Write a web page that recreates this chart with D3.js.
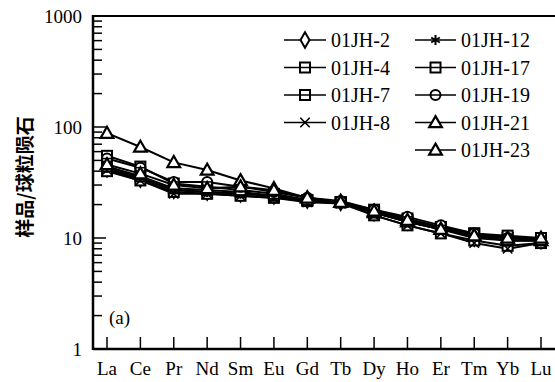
<!DOCTYPE html>
<html>
<head>
  <meta charset="utf-8">
  <style>
    body{ margin:0; padding:0; background:#fff; }
    svg{ display:block; }
  </style>
</head>
<body>
<svg id="chart" width="555" height="382"></svg>
<script src="https://d3js.org/d3.v7.min.js"></script>
<script>
// REE normalised to chondrite
var elements = ["La","Ce","Pr","Nd","Sm","Eu","Gd","Tb","Dy","Ho","Er","Tm","Yb","Lu"];
var yTicks = [1, 10, 100, 1000];

var jh2  = [42, 34, 27, 26, 25, 24, 22, 21, 17, 14, 12, 10, 9.5, 9.5];
var jh4  = [40, 33, 26, 25, 24, 23, 21.5, 21, 16, 13, 11, 9.5, 8.5, 9];
var jh7  = [44, 36, 28, 27, 26, 24, 22, 21, 17, 14.5, 12.5, 11, 10, 10];
var jh8  = [41, 33, 25, 25, 24, 23, 21, 20.5, 16, 13, 11, 9, 8, 9];
var jh12 = [43, 35, 27, 26, 25, 24, 22, 21, 17, 14, 12, 10.5, 9.5, 9.5];
var jh17 = [55, 44, 31, 29, 27, 25, 22, 21, 18, 15, 12.5, 11, 10.5, 10];
var jh19 = [52, 43, 32, 32, 29, 26, 23, 21.5, 18, 15.5, 13, 11, 10, 9.5];
var jh21 = [88, 66, 48, 41, 33, 28, 23, 21, 17, 14, 12, 10.5, 9.5, 9.5];
var jh23 = [46, 38, 30, 28, 29, 27, 23, 21, 17.5, 14.5, 12, 10.5, 10, 10];

var series = [
  {name:"01JH-2",  sym:"diamond",  values:jh2},
  {name:"01JH-4",  sym:"square",   values:jh4},
  {name:"01JH-7",  sym:"square",   values:jh7},
  {name:"01JH-8",  sym:"cross",    values:jh8},
  {name:"01JH-12", sym:"star",     values:jh12},
  {name:"01JH-17", sym:"square",   values:jh17},
  {name:"01JH-19", sym:"circle",   values:jh19},
  {name:"01JH-21", sym:"triangle", values:jh21},
  {name:"01JH-23", sym:"triangle", values:jh23}
];

var serif = "'Liberation Serif', 'Times New Roman', Times, serif";
var pL = 93, pT = 16, pR = 555, pB = 349;

var svg = d3.select("#chart");

var x = d3.scalePoint().domain(elements).range([107, 541]);
var y = d3.scaleLog().domain([1, 1000]).range([pB, pT]);

// draw marker symbol at (cx, cy)
function marker(g, sym, cx, cy){
  if (sym == "diamond") {
    g.append("path").attr("d", d3.symbol(d3.symbolDiamond, 70)())
      .attr("transform", "translate(" + cx + "," + cy + ")")
      .attr("fill", "#fff").attr("stroke", "#000").attr("stroke-width", 2);
  } else if (sym == "square") {
    g.append("rect").attr("x", cx - 5).attr("y", cy - 5).attr("width", 10).attr("height", 10)
      .attr("fill", "#fff").attr("stroke", "#000").attr("stroke-width", 2);
    g.append("line").attr("x1", cx - 5).attr("x2", cx + 5).attr("y1", cy).attr("y2", cy)
      .attr("stroke", "#000").attr("stroke-width", 1.5);
  } else if (sym == "circle") {
    g.append("circle").attr("cx", cx).attr("cy", cy).attr("r", 5)
      .attr("fill", "#fff").attr("stroke", "#000").attr("stroke-width", 2);
    g.append("line").attr("x1", cx - 5).attr("x2", cx + 5).attr("y1", cy).attr("y2", cy)
      .attr("stroke", "#000").attr("stroke-width", 1.5);
  } else if (sym == "triangle") {
    g.append("path").attr("d", d3.symbol(d3.symbolTriangle, 70)())
      .attr("transform", "translate(" + cx + "," + (cy + 1) + ")")
      .attr("fill", "#fff").attr("stroke", "#000").attr("stroke-width", 2.2);
  } else if (sym == "cross") {
    g.append("path").attr("d", d3.symbol(d3.symbolX, 60)())
      .attr("transform", "translate(" + cx + "," + cy + ")")
      .attr("fill", "none").attr("stroke", "#000").attr("stroke-width", 1.6);
  } else if (sym == "star") {
    g.append("path").attr("d", d3.symbol(d3.symbolAsterisk, 70)())
      .attr("transform", "translate(" + cx + "," + cy + ")")
      .attr("fill", "none").attr("stroke", "#000").attr("stroke-width", 2);
  }
}

// series lines + markers
var line = d3.line()
  .x(function(d, i){ return x(elements[i]); })
  .y(function(d){ return y(d); });

var plot = svg.append("g");
series.forEach(function(s){
  plot.append("path").datum(s.values)
    .attr("d", line).attr("fill", "none")
    .attr("stroke", "#000").attr("stroke-width", 2);
});
series.forEach(function(s){
  var g = plot.append("g");
  s.values.forEach(function(v, i){ marker(g, s.sym, x(elements[i]), y(v)); });
});

// top frame line
svg.append("line").attr("x1", pL).attr("x2", pR).attr("y1", pT).attr("y2", pT)
  .attr("stroke", "#000").attr("stroke-width", 2);

// left axis with inward ticks
var yAxis = svg.append("g").attr("transform", "translate(" + pL + ",0)");
var minors = [];
for (var d = 1; d < 1000; d *= 10) for (var k = 2; k <= 9; k++) minors.push(d * k);
yAxis.selectAll(".minor").data(minors).enter().append("line")
  .attr("x1", 0).attr("x2", 9)
  .attr("y1", function(d){ return y(d); }).attr("y2", function(d){ return y(d); })
  .attr("stroke", "#000").attr("stroke-width", 1.5);
yAxis.selectAll(".major").data(yTicks).enter().append("line")
  .attr("x1", 0).attr("x2", 13)
  .attr("y1", function(d){ return y(d); }).attr("y2", function(d){ return y(d); })
  .attr("stroke", "#000").attr("stroke-width", 1.5);
yAxis.selectAll(".tl").data(yTicks).enter().append("text")
  .attr("font-family", serif).attr("font-size", 19).attr("text-anchor", "end")
  .attr("x", -11).attr("y", function(d){ return y(d); }).attr("dy", "0.35em")
  .text(function(d){ return d; });
yAxis.append("line").attr("x1", 0).attr("x2", 0).attr("y1", pT - 1).attr("y2", pB + 1)
  .attr("stroke", "#000").attr("stroke-width", 2.5);

// bottom axis with inward ticks
var xAxis = svg.append("g");
xAxis.append("line").attr("x1", pL).attr("x2", pR).attr("y1", pB).attr("y2", pB)
  .attr("stroke", "#000").attr("stroke-width", 2.5);
xAxis.selectAll(".xt").data(elements).enter().append("line")
  .attr("x1", function(d){ return x(d); }).attr("x2", function(d){ return x(d); })
  .attr("y1", pB).attr("y2", pB - 12)
  .attr("stroke", "#000").attr("stroke-width", 1.5);
xAxis.selectAll(".xl").data(elements).enter().append("text")
  .attr("font-family", serif).attr("font-size", 19).attr("text-anchor", "middle")
  .attr("x", function(d){ return x(d); }).attr("y", 375)
  .text(function(d){ return d; });

// y title
svg.append("text")
  .attr("transform", "translate(32,177) rotate(-90)")
  .attr("text-anchor", "middle")
  .attr("font-family", "'Noto Sans CJK SC', sans-serif")
  .attr("font-size", 19)
  .attr("font-weight", "bold")
  .text("样品/球粒陨石");

// panel label
svg.append("text").attr("font-family", serif).attr("font-size", 19)
  .attr("x", 109).attr("y", 324).text("(a)");

// legend, two columns
var legend = svg.append("g");
series.forEach(function(s, i){
  var col = i < 4 ? 0 : 1, row = i < 4 ? i : i - 4;
  var x0 = col == 0 ? 284 : 415, x1 = col == 0 ? 326 : 456;
  var yy = 40 + row * 27.5;
  var g = legend.append("g");
  g.append("line").attr("x1", x0).attr("x2", x1).attr("y1", yy).attr("y2", yy)
    .attr("stroke", "#000").attr("stroke-width", 1.5);
  marker(g, s.sym, (x0 + x1) / 2, yy);
  g.append("text").attr("font-family", serif).attr("font-size", 20)
    .attr("x", x1 + 5).attr("y", yy).attr("dy", "0.35em").text(s.name);
});
</script>
</body>
</html>
